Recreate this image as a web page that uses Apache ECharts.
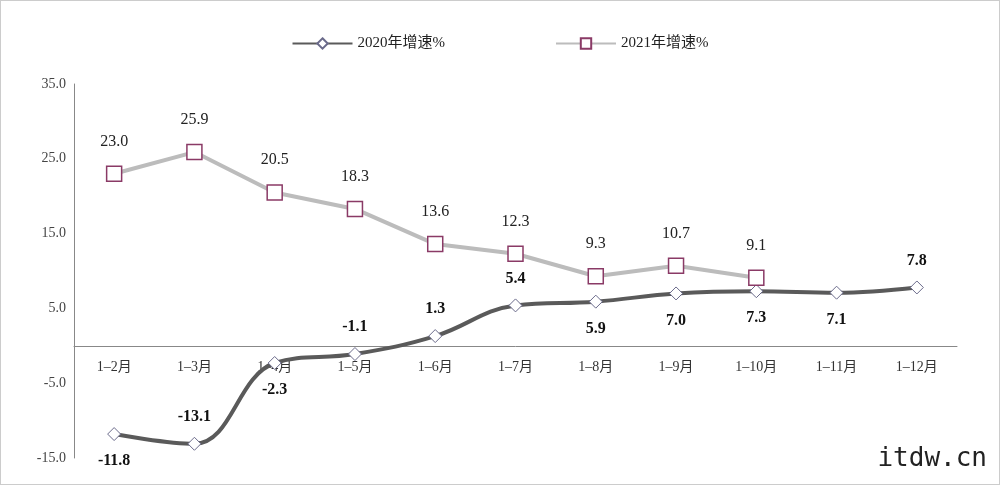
<!DOCTYPE html>
<html>
<head>
<meta charset="utf-8">
<script src="https://cdn.jsdelivr.net/npm/echarts@6/dist/echarts.min.js"></script>
<style>
  html, body { margin: 0; padding: 0; background: #fff; }
  #main { width: 1000px; height: 485px; box-sizing: border-box; border: 1px solid #ccc; }
</style>
</head>
<body>
<div id="main"></div>
<script>
const categories = ['1–2月', '1–3月', '1–4月', '1–5月', '1–6月', '1–7月', '1–8月', '1–9月', '1–10月', '1–11月', '1–12月'];
const growth2020 = [-11.8, -13.1, -2.3, -1.1, 1.3, 5.4, 5.9, 7.0, 7.3, 7.1, 7.8];
const growth2021 = [23.0, 25.9, 20.5, 18.3, 13.6, 12.3, 9.3, 10.7, 9.1];
const labelPos2020 = ['bottom', 'top', 'bottom', 'top', 'top', 'top', 'bottom', 'bottom', 'bottom', 'bottom', 'top'];

const font = '"Liberation Serif", "Noto Sans CJK SC", serif';
const chart = echarts.init(document.getElementById('main'));
chart.setOption({
  textStyle: { fontFamily: font },
  legend: {
    top: 30, left: 'center', itemGap: 110, itemWidth: 60, itemHeight: 13,
    textStyle: { fontSize: 15, color: '#222', fontFamily: font },
    data: ['2020年增速%', '2021年增速%']
  },
  grid: { left: 73, right: 42, top: 83, bottom: 26 },
  xAxis: {
    type: 'category', data: categories,
    axisLine: { onZero: true, lineStyle: { color: '#888' } },
    axisTick: { show: false },
    // labels sit just under the zero line, as in the reference
    axisLabel: { color: '#333', fontSize: 14, margin: -98, fontFamily: font }
  },
  yAxis: {
    type: 'value', min: -15, max: 35, interval: 10,
    axisLine: { show: true, lineStyle: { color: '#888' } },
    axisTick: { show: false },
    splitLine: { show: false },
    axisLabel: { color: '#444', fontSize: 14, formatter: v => v.toFixed(1), fontFamily: font }
  },
  series: [
    {
      name: '2020年增速%', type: 'line', smooth: 0.4,
      data: growth2020.map((v, i) => ({ value: v, label: { position: labelPos2020[i] } })),
      symbol: 'diamond', symbolSize: 13,
      lineStyle: { color: '#5a5a5a', width: 4 },
      itemStyle: { color: '#fff', borderColor: '#6a6a8a', borderWidth: 1 },
      label: { show: true, fontSize: 16, fontWeight: 'bold', color: '#111', distance: 12,
        formatter: p => p.value.toFixed(1), fontFamily: font }
    },
    {
      name: '2021年增速%', type: 'line',
      data: growth2021,
      symbol: 'rect', symbolSize: 15,
      lineStyle: { color: '#bcbcbc', width: 4 },
      itemStyle: { color: '#fff', borderColor: '#8a3a66', borderWidth: 1.5 },
      label: { show: true, position: 'top', fontSize: 16, color: '#222', distance: 16,
        formatter: p => p.value.toFixed(1), fontFamily: font }
    }
  ],
  graphic: [{ type: 'text', right: 12, bottom: 12,
    style: { text: 'itdw.cn', fontSize: 26, fill: '#222', fontFamily: 'DejaVu Sans Mono' } }]
});
window.onresize = () => { chart.resize(); };
</script>
</body>
</html>
